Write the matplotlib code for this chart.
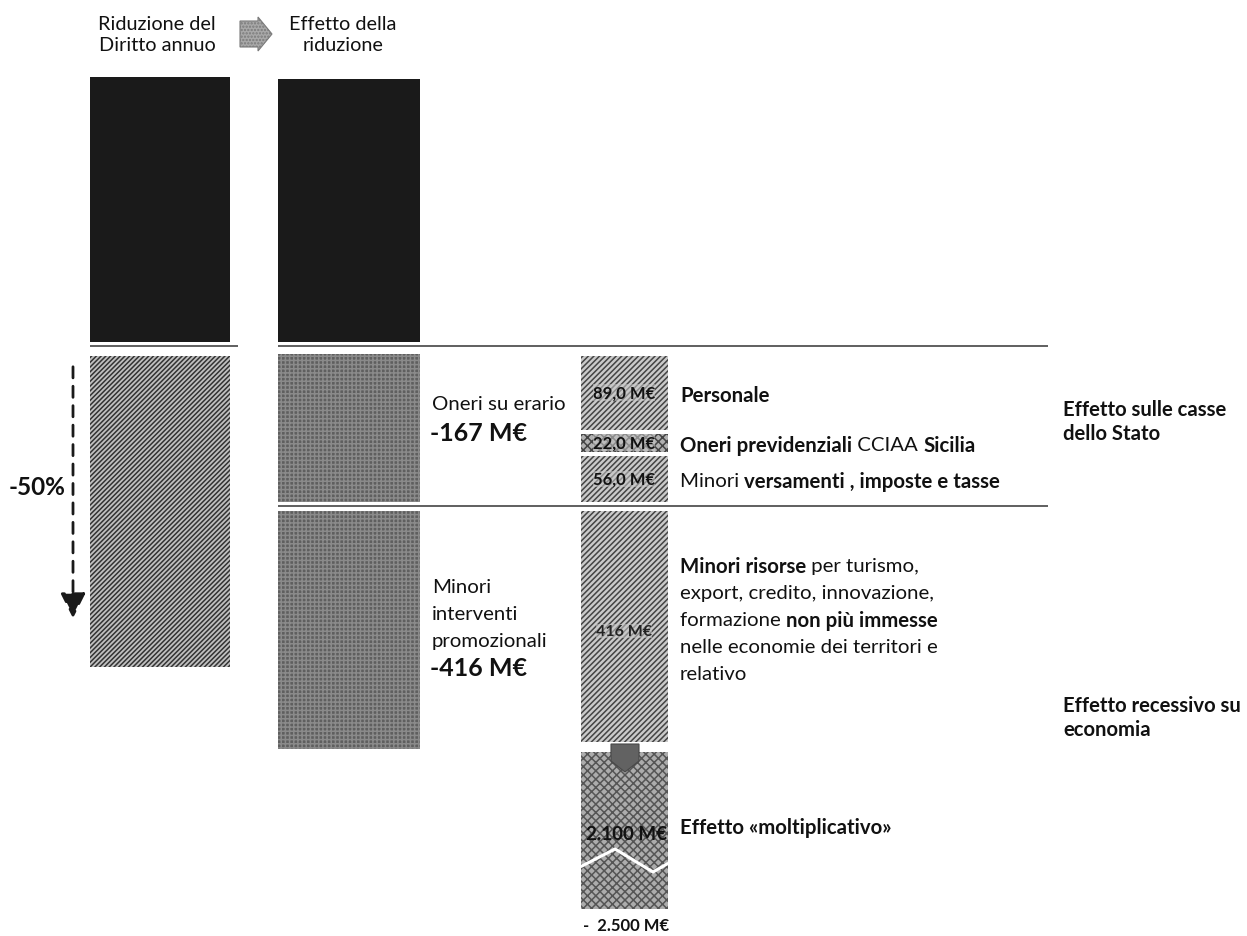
import matplotlib

matplotlib.use("Agg")

import matplotlib.pyplot as plt
from matplotlib.patches import Polygon

plt.rcParams["font.family"] = ["Lato", "DejaVu Sans"]
plt.rcParams["hatch.linewidth"] = 1.1

# --- values ---------------------------------------------------------------
reduction_pct = -50
effect_names = ["Oneri su erario", "Minori\ninterventi\npromozionali"]
effect_values = [-167, -416]
erario_values = [89.0, 22.0, 56.0]
erario_labels = [
    [("Personale", True)],
    [("Oneri previdenziali", True), (" CCIAA ", False), ("Sicilia", True)],
    [("Minori ", False), ("versamenti , imposte e tasse", True)],
]
promo_value = 416
multiplier_value = 2100
total_effect = -2500
promo_text = [
    [("Minori risorse", True), (" per turismo,", False)],
    [("export, credito, innovazione,", False)],
    [("formazione ", False), ("non più immesse", True)],
    [("nelle economie dei territori e", False)],
    [("relativo", False)],
]
side_labels = ["Effetto sulle casse\ndello Stato", "Effetto recessivo su\neconomia"]
headers = ["Riduzione del\nDiritto annuo", "Effetto della\nriduzione"]

# --- layout (pixels, y grows downward) ------------------------------------
W, H = 1247, 937
LEFT_X, LEFT_W = 160, 140
MID_X, MID_W = 349, 142
RIGHT_X, RIGHT_W = 624, 87
TOP = (78, 343)
CUT_Y = 347
SPLIT_Y = 507
LEFT_LOW = (357, 668)
MID_ERARIO = (355, 503)
MID_PROMO = (512, 750)
RIGHT_ERARIO = (357, 503)
RIGHT_PROMO = (512, 743)
RIGHT_MULT = (753, 910)
GAP = 4
TEXT_X = 680
BODY = 14.7

INK = "#111111"
BLACK = "#1a1a1a"


def fmt_meur(v, decimals=0):
    s = f"{abs(v):,.{decimals}f}".replace(",", "#").replace(".", ",").replace("#", ".")
    return s + " M€"


def text_width(ax, s, **kw):
    r = ax.figure.canvas.get_renderer()
    a = ax.text(0, 0, s + "l", **kw)
    b = ax.text(0, 0, "l", **kw)
    w = a.get_window_extent(r).width - b.get_window_extent(r).width
    a.remove()
    b.remove()
    return w


def draw_runs(ax, x, y, runs, size):
    for s, bold in runs:
        kw = dict(fontsize=size, fontweight="bold" if bold else "normal", color=INK)
        ax.text(x, y, s, ha="left", va="center", **kw)
        x += text_width(ax, s, **kw)


def block(ax, xc, width, span, face, hatch=None, hatch_col="#333333"):
    ax.bar(xc, span[1] - span[0], bottom=span[0], width=width, color=face,
           edgecolor=hatch_col if hatch else face, linewidth=0, hatch=hatch)


fig = plt.figure(figsize=(W / 100, H / 100), dpi=100)
ax = fig.add_axes([0, 0, 1, 1])
ax.set_xlim(0, W)
ax.set_ylim(H, 0)
ax.axis("off")

# headers and the small block arrow between them
ax.text(LEFT_X - 3, 35, headers[0], ha="center", va="center", fontsize=14.3,
        color=INK, linespacing=1.3)
ax.text(MID_X - 6, 35, headers[1], ha="center", va="center", fontsize=14.3,
        color=INK, linespacing=1.3)
ax.add_patch(Polygon([(240, 22), (258, 22), (258, 18), (272, 35), (258, 52),
                      (258, 48), (240, 48)], closed=True, facecolor="#a9a9a9",
                     edgecolor="#7a7a7a", lw=0.8, hatch="....."))

# remaining part of the fee (top, black)
block(ax, LEFT_X, LEFT_W, TOP, BLACK)
block(ax, MID_X, MID_W, (TOP[0] + 2, TOP[1]), BLACK)

# separators
ax.hlines(CUT_Y, LEFT_X - LEFT_W / 2, LEFT_X + LEFT_W / 2 + 8, color="#444444", lw=1.2)
ax.hlines(CUT_Y, MID_X - MID_W / 2, 1048, color="#444444", lw=1.2)
ax.hlines(SPLIT_Y, MID_X - MID_W / 2, 1048, color="#444444", lw=1.2)

# reduced share of the fee
block(ax, LEFT_X, LEFT_W, LEFT_LOW, "#c0c0c0", hatch="///////", hatch_col="#333333")
ax.annotate("", xy=(73, 622), xytext=(73, 365),
            arrowprops=dict(arrowstyle="-|>,head_length=0.7,head_width=0.35",
                            linestyle=(0, (4, 3)), lw=2.0,
                            color="#1a1a1a", mutation_scale=22))
ax.text(66, 488, f"{reduction_pct}%", ha="right", va="center", fontsize=17.5,
        fontweight="bold", color=INK)

# effects of the reduction
for span in (MID_ERARIO, MID_PROMO):
    block(ax, MID_X, MID_W, span, "#5f5f5f", hatch="++++", hatch_col="#8a8a8a")
block_ys = [(405, 434), (642, 669)]
for (yn, yv), name, val in zip(block_ys, effect_names, effect_values):
    lines = name.split("\n")
    for i, ln in enumerate(lines):
        ax.text(432, yn - (len(lines) - 1 - i) * 27, ln, ha="left", va="center",
                fontsize=BODY, color=INK)
    ax.text(430, yv, f"-{fmt_meur(val)}", ha="left", va="center", fontsize=18,
            fontweight="bold", color=INK)

# breakdown of the charges on the Treasury, split in proportion to the values
avail = RIGHT_ERARIO[1] - RIGHT_ERARIO[0] - GAP * (len(erario_values) - 1)
y0 = RIGHT_ERARIO[0]
styles = [("#cacaca", "//////"), ("#b0b0b0", "xxxx"), ("#cacaca", "//////")]
for val, runs, (face, hatch) in zip(erario_values, erario_labels, styles):
    h = avail * val / sum(erario_values)
    block(ax, RIGHT_X, RIGHT_W, (y0, y0 + h), face, hatch=hatch, hatch_col="#444444")
    yc = y0 + h / 2
    ax.text(RIGHT_X, yc, fmt_meur(val, 1), ha="center", va="center", fontsize=12,
            fontweight="bold", color=INK,
            bbox=dict(boxstyle="square,pad=0.02", fc="#c8c8c8", ec="none", alpha=0.55))
    draw_runs(ax, TEXT_X, yc + 2, runs, BODY)
    y0 += h + GAP

# promotional resources and their multiplier
block(ax, RIGHT_X, RIGHT_W, RIGHT_PROMO, "#cacaca", hatch="//////", hatch_col="#444444")
ax.text(RIGHT_X, 632, fmt_meur(promo_value), ha="center", va="center", fontsize=11.5,
        fontweight="bold", color="#222222",
        bbox=dict(boxstyle="square,pad=0.02", fc="#c8c8c8", ec="none", alpha=0.55))
for i, runs in enumerate(promo_text):
    draw_runs(ax, TEXT_X, 567 + i * 27, runs, BODY)

block(ax, RIGHT_X, RIGHT_W, RIGHT_MULT, "#acacac", hatch="xxxx", hatch_col="#555555")
ax.plot([582, 615, 653, 667], [867, 850, 873, 865], color="white", lw=2.2,
        solid_joinstyle="miter")
ax.add_patch(Polygon([(611, 745), (639, 745), (639, 762), (625, 773), (611, 762)],
                     closed=True, facecolor="#626262", edgecolor="#484848", lw=0.8))
ax.text(RIGHT_X + 2, 835, fmt_meur(multiplier_value), ha="center", va="center",
        fontsize=13.5, fontweight="bold", color=INK)
draw_runs(ax, TEXT_X, 828, [("Effetto «moltiplicativo»", True)], BODY)
ax.text(RIGHT_X + 2, 926, f"-  {fmt_meur(total_effect)}", ha="center", va="center",
        fontsize=12, fontweight="bold", color=INK)

# side captions
ax.text(1063, 422, side_labels[0], ha="left", va="center", fontsize=14.6,
        fontweight="bold", color=INK, linespacing=1.3)
ax.text(1063, 718, side_labels[1], ha="left", va="center", fontsize=14.6,
        fontweight="bold", color=INK, linespacing=1.3)

fig.savefig("out.png", dpi=100, facecolor="white")
